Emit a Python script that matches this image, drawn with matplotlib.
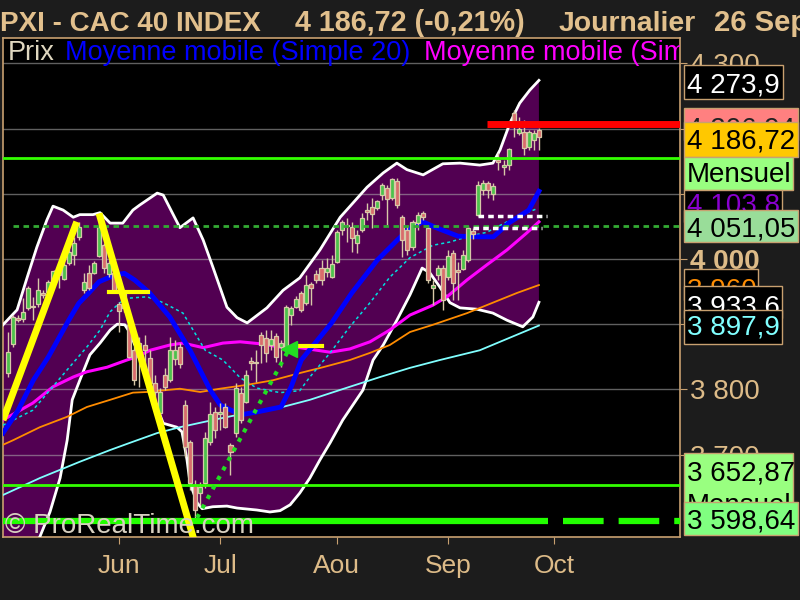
import numpy as np
import pandas as pd
import matplotlib
matplotlib.use("Agg")
import matplotlib.pyplot as plt
from matplotlib import font_manager
from matplotlib.patches import Rectangle

# ---------------- data ----------------
start_date = "2013-05-02"
opens = [
 3825, 3870, 3910, 3908, 3925, 3928, 3931, 3948, 3949, 3965,
 3983, 3969, 3994, 4006, 4034, 3952, 3979, 3979, 4005, 4021,
 3977, 3979, 3931, 3948, 3899, 3860, 3851, 3868, 3848, 3810,
 3764, 3822, 3814, 3847, 3865, 3776, 3719, 3653, 3641, 3656,
 3719, 3765, 3762, 3773, 3715, 3733, 3795, 3781, 3844, 3841,
 3883, 3879, 3868, 3882, 3865, 3860, 3914, 3926, 3948, 3932,
 3962, 3977, 3986, 3980, 3972, 3995, 4044, 4052, 4049, 4025,
 4044, 4075, 4080, 4078, 4098, 4109, 4094, 4120, 4064, 4044,
 4018, 4055, 4071, 4048, 3956, 3975, 3986, 3972, 4009, 3983,
 3985, 3998, 4043, 4068, 4106, 4117, 4100, 4152, 4141, 4144,
 4224, 4193, 4195, 4172, 4183, 4198]
closes = [
 3857, 3911, 3906, 3919, 3956, 3926, 3952, 3945, 3965, 3982,
 3975, 3991, 4011, 4025, 4049, 3965, 3956, 3994, 4049, 3986,
 3994, 3949, 3920, 3925, 3850, 3814, 3871, 3860, 3810, 3796,
 3796, 3804, 3860, 3860, 3839, 3712, 3656, 3615, 3650, 3725,
 3762, 3738, 3765, 3742, 3704, 3802, 3753, 3822, 3841, 3842,
 3868, 3856, 3877, 3850, 3871, 3926, 3925, 3939, 3922, 3960,
 3956, 3968, 3968, 3986, 3992, 4041, 4057, 4051, 4032, 4037,
 4063, 4072, 4069, 4089, 4114, 4092, 4123, 4083, 4029, 4014,
 4057, 4068, 4064, 3968, 3960, 3986, 3937, 4005, 3963, 3980,
 4006, 4048, 4039, 4114, 4117, 4106, 4112, 4149, 4144, 4169,
 4207, 4199, 4170, 4195, 4193, 4186.72]
highs = [
 3888, 3914, 3914, 3940, 3959, 3942, 3971, 3952, 3968, 3983,
 3991, 3998, 4018, 4034, 4057, 3979, 3991, 3997, 4071, 4025,
 3998, 3983, 3934, 3952, 3902, 3868, 3880, 3883, 3860, 3822,
 3802, 3833, 3880, 3876, 3871, 3784, 3722, 3661, 3658, 3735,
 3781, 3773, 3779, 3779, 3718, 3810, 3804, 3830, 3850, 3860,
 3888, 3891, 3891, 3887, 3876, 3929, 3928, 3943, 3951, 3975,
 3965, 3983, 3998, 4002, 4006, 4044, 4060, 4063, 4057, 4044,
 4071, 4086, 4094, 4091, 4117, 4114, 4124, 4124, 4068, 4052,
 4060, 4072, 4074, 4052, 3968, 3991, 3991, 4014, 4014, 3995,
 4014, 4051, 4047, 4120, 4121, 4120, 4117, 4163, 4152, 4170,
 4229, 4218, 4213, 4198, 4198, 4201]
lows = [
 3819, 3865, 3903, 3903, 3922, 3906, 3926, 3940, 3945, 3963,
 3956, 3968, 3991, 3991, 4029, 3948, 3952, 3977, 4003, 3979,
 3972, 3948, 3888, 3919, 3848, 3807, 3804, 3837, 3802, 3784,
 3733, 3799, 3811, 3837, 3833, 3696, 3646, 3597, 3623, 3649,
 3715, 3725, 3738, 3741, 3669, 3727, 3748, 3779, 3830, 3811,
 3841, 3842, 3860, 3842, 3834, 3857, 3899, 3925, 3919, 3929,
 3929, 3963, 3960, 3972, 3971, 3994, 4037, 4026, 4011, 4009,
 4041, 4060, 4048, 4075, 4091, 4052, 4091, 4078, 4003, 4006,
 4014, 4044, 4060, 3963, 3929, 3968, 3922, 3968, 3937, 3937,
 3983, 3995, 4030, 4066, 4098, 4094, 4091, 4137, 4129, 4137,
 4187, 4190, 4160, 4167, 4167, 4167]

# indicators read at sample bar positions (bar index, value)
ma20_idx = [-1, 2, 5, 8, 12, 14, 16, 18, 21, 23, 25, 28, 32, 36, 40, 42, 46, 49, 54, 56,
            58, 64, 68, 73, 77, 79, 82, 85, 89, 93, 96, 99, 103, 105]
ma20_val = [3733, 3768, 3814, 3850, 3906, 3932, 3948, 3965, 3975, 3978, 3968, 3948, 3911,
            3860, 3799, 3776, 3761, 3765, 3773, 3804, 3845, 3902, 3948, 3998, 4029, 4044,
            4057, 4047, 4035, 4034, 4034, 4055, 4075, 4103.8]
bb_up_idx = [-1, 1.8, 3.8, 5.7, 7.7, 8.9, 10.9, 12.9, 14.2, 16.8, 18.2, 20.2, 22.7, 24.7,
             26.1, 29.5, 30.7, 34, 36.6, 38.6, 40.5, 43.3, 45.3, 47.3, 51.2, 54.4, 57.7,
             61.7, 65.7, 71, 74.2, 76.9, 78.9, 82.1, 86, 89.4, 93.3, 95.9, 97.3, 99.3,
             101.2, 103.2, 105]
bb_up_val = [3899, 3922, 3972, 4018, 4060, 4081, 4075, 4064, 4068, 4068, 4071, 4055, 4055,
             4075, 4083, 4101, 4098, 4048, 4063, 4029, 3988, 3926, 3910, 3902, 3925, 3952,
             3971, 4014, 4064, 4110, 4132, 4147, 4137, 4129, 4146, 4147, 4144, 4147, 4167,
             4209, 4239, 4259, 4273.9]
bb_lo_idx = [-1, 2.4, 4.9, 6.3, 8.3, 10.3, 11.7, 12.7, 14.2, 16.2, 18.2, 20.2, 21.6, 23.1,
             24.1, 25.5, 27.5, 29.5, 30.7, 33.4, 34.4, 35.4, 36, 37.4, 38.4, 40.5, 43.3,
             45.3, 49.2, 51.8, 53.8, 55.8, 57.7, 59.7, 61.7, 63.7, 66.2, 68.2, 70.2, 72.2,
             74.2, 76.9, 79.5, 81.9, 83.4, 85.4, 87.4, 89.4, 92.7, 95.9, 98.7, 101.8,
             103.8, 105]
bb_lo_val = [3523, 3531, 3554, 3574, 3612, 3664, 3722, 3784, 3814, 3853, 3871, 3891, 3900,
             3899, 3887, 3860, 3822, 3772, 3748, 3742, 3735, 3692, 3656, 3626, 3617, 3620,
             3621, 3618, 3615, 3612, 3614, 3623, 3641, 3664, 3692, 3718, 3753, 3776, 3799,
             3845, 3868, 3906, 3945, 3986, 3979, 3957, 3933, 3925, 3923, 3917, 3906, 3896,
             3911, 3933.6]
ema_idx = [-1, 4.9, 8.3, 11.7, 15.6, 18.2, 20.2, 22.1, 24.1, 27.5, 30.7, 34.6, 39, 42.5,
           45.9, 49.2, 53.8, 57.7, 59.7, 63.7, 67.6, 71.6, 75.5, 79.5, 84, 87.4, 90.8,
           94.7, 98.7, 102.6, 104.6]
ema_val = [3745, 3768, 3799, 3830, 3865, 3891, 3919, 3933, 3940, 3942, 3933, 3917, 3860,
           3845, 3818, 3802, 3795, 3798, 3819, 3856, 3896, 3933, 3972, 4002, 4021, 4026,
           4034, 4041, 4057, 4071, 4077]
ma50_idx = [-1, 4.9, 8.9, 12.9, 15.6, 19.6, 23.5, 25.5, 28.1, 32, 34.6, 38.6, 42.5, 45.9,
            49.8, 53.8, 57.7, 63.7, 67.6, 71.6, 75.5, 79.5, 84, 86.8, 90.8, 94.7, 98.7,
            102.6, 105]
ma50_val = [3753, 3779, 3804, 3819, 3827, 3834, 3845, 3850, 3860, 3868, 3871, 3864, 3871,
            3873, 3870, 3865, 3864, 3857, 3862, 3873, 3891, 3914, 3929, 3942, 3968, 3991,
            4014, 4040, 4057]
ma100_idx = [-1, 1, 6.3, 11.7, 15.6, 20.2, 24.7, 27.5, 34, 38, 41.9, 47.3, 52.4, 57.7, 62.3,
             67.6, 71.6, 75.5, 79.5, 84, 90.8, 95.9, 100.7, 105]
ma100_val = [3715, 3722, 3742, 3758, 3773, 3784, 3795, 3796, 3801, 3796, 3801, 3807, 3814,
             3825, 3834, 3845, 3856, 3868, 3888, 3899, 3917, 3933, 3948, 3960]
ma200_idx = [-1, 6.3, 14.2, 20.2, 24.1, 29.5, 34, 40.5, 47.3, 53.8, 59.7, 67.6, 73.6, 79.5,
             85.4, 93.3, 105]
ma200_val = [3638, 3664, 3689, 3707, 3718, 3733, 3742, 3753, 3764, 3772, 3784, 3804, 3819,
             3833, 3845, 3860, 3897.9]

# drawing objects (bar index, price)
trend1_x, trend1_y = [-1, 13.6], [3753, 4057]
trend2_x, trend2_y = [18.0, 37.5], [4070, 3550]
yellow_h1_x, yellow_h1_y = [20.0, 27.7], 3949
yellow_h2_x, yellow_h2_y = [57.0, 62.0], 3867
green_arrow_x, green_arrow_y = [37.4, 55.6], [3603, 3862]
gap_top_x, gap_top_y = [92.9, 106.6], 4066
gap_bot_x, gap_bot_y = [92.0, 105.6], 4047
red_level_x0, red_level = 94.7, 4206.94
monthly_hi = 4155.6
dashed_level = 4051.05
monthly_lo1, monthly_lo2 = 3652.87, 3598.64

month_names = {6: "Jun", 7: "Jul", 8: "Aou", 9: "Sep", 10: "Oct"}
grid_levels = [3700, 3800, 3900, 4000, 4100, 4200, 4300]

right_boxes = [  # (box top px, box bottom px, box right px, bg, text, fg, text baseline px)
    (65, 99, 783, "black", "4 273,9", "white", 93),
    (108, 140, 798, "#FF8080", "4 206,94", "#202020", 136),
    (122, 157, 798, "#FFC800", "4 186,72", "black", 148),
    (157, 190, 793, "#99FF80", "Mensuel", "black", 182),
    (190, 222, 782, "black", "4 103,8", "#8A00D0", 213),
    (210, 242, 798, "#99DD99", "4 051,05", "black", 237),
    (269, 300, 758, "black", "3 960", "#FF8C00", 298),
    (286, 318, 782, "black", "3 933,6", "white", 314),
    (310, 344, 782, "black", "3 897,9", "#80FFFF", 334),
    (453, 520, 793, "#99FF80", "3 652,87", "black", 480),
    (453, 520, 793, None, "Mensuel", "black", 513),
    (502, 535, 798, "#80FF80", "3 598,64", "black", 529),
]

# ---------------- fonts ----------------
def has_font(name):
    try:
        font_manager.findfont(font_manager.FontProperties(family=name), fallback_to_default=False)
        return True
    except Exception:
        return False

SANS = "Liberation Sans" if has_font("Liberation Sans") else "DejaVu Sans"
NARROW = "Liberation Sans Narrow" if has_font("Liberation Sans Narrow") else SANS
plt.rcParams["font.family"] = [SANS, "DejaVu Sans"]

TAN = "#DDBB88"
BORDER = "#C8A070"
W, H = 800, 600

def fy(y):
    return 1 - y / H

fig = plt.figure(figsize=(8, 6), dpi=100, facecolor="#1C1C1C")
ax = fig.add_axes([3 / W, 1 - 537 / H, 677 / W, 499 / H])
ax.set_facecolor("black")
ax.set_xlim(-0.99, 132.9)
ax.set_ylim(3573.6, 4338.9)

# bands
ax.fill(np.r_[bb_up_idx, bb_lo_idx[::-1]], np.r_[bb_up_val, bb_lo_val[::-1]],
        color="#520052", lw=0, zorder=1)
for v in grid_levels:
    ax.axhline(v, color="#B0B0B0", alpha=0.55, lw=1, zorder=1.5)
ax.plot(bb_up_idx, bb_up_val, color="white", lw=2, zorder=3)
ax.plot(bb_lo_idx, bb_lo_val, color="white", lw=2, zorder=3)

# moving averages
ax.plot(ma200_idx, ma200_val, color="#80FFFF", lw=1.3, zorder=3)
ax.plot(ma100_idx, ma100_val, color="#FF8C00", lw=1.3, zorder=3)
ax.plot(ma50_idx, ma50_val, color="#FF00FF", lw=2.2, zorder=3)
ax.plot(ema_idx, ema_val, color="#00E0E0", lw=1.1, dashes=(2, 2), zorder=3)
ax.plot(ma20_idx, ma20_val, color="#0000FF", lw=3.5, zorder=3.2)

# candles
o, c, h, l = map(np.array, (opens, closes, highs, lows))
idx = np.arange(len(o))
dates = pd.bdate_range(start_date, periods=len(o) + 30)
col = np.where(c > o, "#4CC24C", np.where(c < o, "#D96C6C", "#D8C8A8"))
ax.vlines(idx, l, h, color="#D8C8A8", lw=1, zorder=4)
ax.bar(idx, np.maximum(np.abs(c - o), 1.5), bottom=np.minimum(o, c), width=0.8,
       color=col, edgecolor="#D8C8A8", lw=0.9, zorder=5)

# horizontal levels
ax.axhline(monthly_hi, color="#33FF00", lw=2, zorder=6)
ax.axhline(monthly_lo1, color="#33FF00", lw=2, zorder=6)
ax.axhline(dashed_level, xmin=(1 + 0.99) / 133.89, color="#33AA33", lw=2, dashes=(2, 1.6), zorder=6)
ax.plot([-1, 106.8], [monthly_lo2] * 2, color="#22FF00", lw=4.5, zorder=6, solid_capstyle="butt")
ax.plot([106.8, 133], [monthly_lo2] * 2, color="#22FF00", lw=4.5, zorder=6,
        linestyle=(6.5, (6.5, 2.4)), solid_capstyle="butt", dash_capstyle="butt")
ax.plot([red_level_x0, 133], [red_level] * 2, color="#FF0000", lw=5, zorder=6, solid_capstyle="butt")
ax.plot(gap_top_x, [gap_top_y] * 2, color="white", lw=2.5, dashes=(1.6, 1.2), zorder=6)
ax.plot(gap_bot_x, [gap_bot_y] * 2, color="white", lw=2.5, dashes=(1.6, 1.2), zorder=6)

# drawings
ax.plot(trend1_x, trend1_y, color="#FFFF00", lw=5, zorder=7, solid_capstyle="butt")
ax.plot(trend2_x, trend2_y, color="#FFFF00", lw=5, zorder=7, solid_capstyle="butt")
ax.plot(yellow_h1_x, [yellow_h1_y] * 2, color="#FFFF00", lw=3, zorder=7)
ax.plot(yellow_h2_x, [yellow_h2_y] * 2, color="#FFFF00", lw=3, zorder=7)
ax.plot(green_arrow_x, green_arrow_y, color="#22DD22", lw=3, dashes=(1, 1.6), zorder=7)
ax.plot(green_arrow_x[-1], green_arrow_y[-1], marker="<", color="#22DD22", ms=11, zorder=7)

# axes styling
for s in ax.spines.values():
    s.set_color(BORDER)
    s.set_linewidth(1.2)
ax.yaxis.tick_right()
ax.set_yticks(grid_levels)
ax.set_yticklabels([f"{v // 1000} {v % 1000:03d}" for v in grid_levels])
ax.tick_params(axis="y", colors=BORDER, labelcolor=TAN, labelsize=20, length=5, pad=2)
for lab in ax.get_yticklabels():
    if lab.get_text() == "4 000":
        lab.set_fontweight("bold")

month_pos, month_lab = [], []
for i in range(1, len(dates)):
    if dates[i].month != dates[i - 1].month and dates[i].month in month_names:
        month_pos.append(i)
        month_lab.append(month_names[dates[i].month])
ax.set_xticks(month_pos)
ax.set_xticklabels(month_lab)
ax.tick_params(axis="x", colors=BORDER, labelcolor=TAN, labelsize=19, length=5, pad=7)

# legend row
leg = [("Prix", 8, "#E0D8C0"), ("Moyenne mobile (Simple 20)", 65, "#0000FF"),
       ("Moyenne mobile (Simple 50)", 424, "#FF00FF")]
for s, x, colr in leg:
    ax.text(x / W, fy(60), s, color=colr, fontsize=19.5, transform=fig.transFigure,
            va="baseline", ha="left", clip_on=True, zorder=9)

# watermark
fig.text(5 / W, fy(533), "\u00a9 ProRealTime.com", color="#D8D0C0", fontsize=20,
         va="baseline", ha="left", zorder=8)

# right-hand boxes
z = 10
for y0, y1, x1, bg, txt, fg, tb in right_boxes:
    if bg is not None:
        fig.add_artist(Rectangle((684 / W, fy(y1)), (x1 - 684) / W, (y1 - y0) / H,
                                 transform=fig.transFigure, facecolor=bg, edgecolor=BORDER,
                                 lw=1, zorder=z))
    fig.text(687 / W, fy(tb), txt, color=fg, fontsize=20, va="baseline", ha="left",
             zorder=z + 0.5)
    z += 1

# title, fitted to the reference widths
renderer = fig.canvas.get_renderer()
title_parts = [("PXI - CAC 40 INDEX", 0, 260), ("4 186,72 (-0,21%)", 295, 525),
               ("Journalier", 559, 696), ("26 Sep", 714, 808)]
for s, x0, x1 in title_parts:
    t = fig.text(x0 / W, fy(31), s, color="#E2C08D", fontsize=22, fontweight="bold",
                 family=[NARROW, "DejaVu Sans"], va="baseline", ha="left")
    w = t.get_window_extent(renderer).width
    t.set_fontsize(22 * (x1 - x0) / w)

fig.savefig("out.png", dpi=100, facecolor=fig.get_facecolor())
